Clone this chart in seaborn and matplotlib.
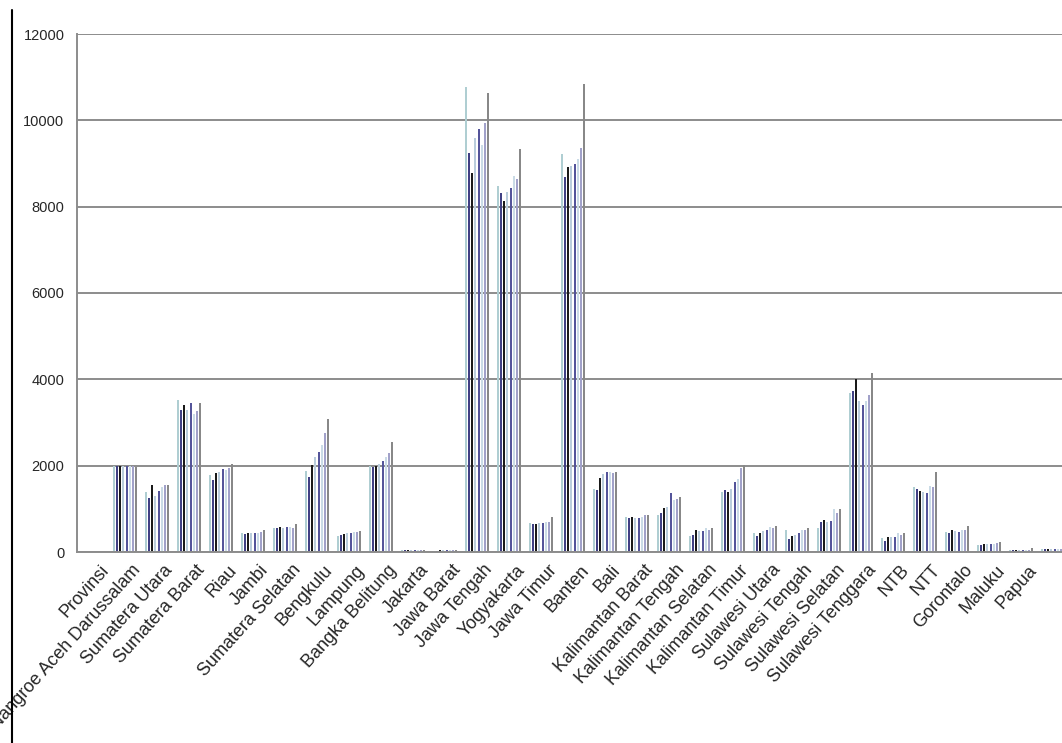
"""
plot.py
Grouped bar chart per provinsi (8 series), Excel-style look.
"""

import numpy as np
import pandas as pd
import matplotlib
matplotlib.use("Agg")
import matplotlib.pyplot as plt
from matplotlib.lines import Line2D
from matplotlib.ticker import FixedLocator
import seaborn as sns

# tick labels (one per slot, last data slot has no label)
provinces = [
    "Provinsi", "Nangroe Aceh Darussalam", "Sumatera Utara", "Sumatera Barat",
    "Riau", "Jambi", "Sumatera Selatan", "Bengkulu", "Lampung",
    "Bangka Belitung", "Jakarta", "Jawa Barat", "Jawa Tengah", "Yogyakarta",
    "Jawa Timur", "Banten", "Bali", "Kalimantan Barat", "Kalimantan Tengah",
    "Kalimantan Selatan", "Kalimantan Timur", "Sulawesi Utara",
    "Sulawesi Tengah", "Sulawesi Selatan", "Sulawesi Tenggara", "NTB", "NTT",
    "Gorontalo", "Maluku", "Papua",
]

# values per series, slot 0 is empty (header row)
s1 = [np.nan, 2000, 1400, 3520, 1780, 430, 560, 1880, 380, 2000, 40, 30, 10770, 8480, 670, 9220,
      1450, 820, 850, 370, 1397, 430, 510, 548, 3675, 316, 1513, 470, 170, 45, 70]
s2 = [np.nan, 2000, 1250, 3290, 1665, 420, 560, 1745, 400, 1980, 40, 30, 9240, 8310, 660, 8680,
      1435, 780, 900, 400, 1436, 370, 293, 700, 3736, 262, 1451, 447, 170, 45, 65]
s3 = [np.nan, 2000, 1550, 3400, 1820, 430, 580, 2015, 420, 2000, 40, 35, 8780, 8140, 660, 8910,
      1705, 800, 1010, 500, 1397, 450, 370, 740, 4000, 340, 1420, 510, 175, 46, 70]
s4 = [np.nan, 2000, 1300, 3300, 1850, 430, 560, 2200, 440, 2050, 45, 35, 9590, 8350, 670, 8950,
      1800, 790, 1050, 480, 1450, 480, 400, 700, 3500, 340, 1400, 480, 180, 46, 75]
s5 = [np.nan, 2000, 1410, 3450, 1915, 440, 590, 2325, 450, 2100, 45, 35, 9800, 8440, 680, 9000,
      1860, 780, 1375, 495, 1628, 510, 430, 720, 3405, 340, 1374, 470, 180, 48, 70]
s6 = [np.nan, 2000, 1500, 3200, 1900, 450, 570, 2480, 460, 2200, 45, 40, 9430, 8710, 700, 9100,
      1850, 820, 1200, 548, 1700, 586, 510, 1000, 3500, 432, 1528, 510, 190, 50, 80]
s7 = [np.nan, 2000, 1550, 3270, 1940, 460, 560, 2750, 470, 2300, 50, 40, 9940, 8630, 690, 9370,
      1830, 850, 1220, 520, 1938, 560, 500, 895, 3636, 400, 1500, 500, 200, 50, 80]
s8 = [np.nan, 1980, 1550, 3460, 2050, 500, 650, 3070, 480, 2550, 50, 40, 10630, 9330, 820, 10840,
      1860, 850, 1280, 548, 2015, 602, 548, 988, 4138, 432, 1860, 602, 240, 85, 90]

series = [s1, s2, s3, s4, s5, s6, s7, s8]
series_names = ["s1", "s2", "s3", "s4", "s5", "s6", "s7", "s8"]
colors = ["#a9d3d8", "#343490", "#1a1a1a", "#b4cde2", "#4848a6", "#c6dcea", "#9a9ad0", "#888888"]

n_slots = len(s1)
rows = []
for name, vals in zip(series_names, series):
    for i, v in enumerate(vals):
        rows.append({"slot": i, "seri": name, "value": v})
df = pd.DataFrame(rows)

sns.set_style("white")
plt.rcParams["font.family"] = ["Liberation Sans", "DejaVu Sans"]

fig = plt.figure(figsize=(10.62, 7.43), dpi=100)
W, H = 1062, 743
x0, y0, slot_px, y_top = 77, 552, 32, 34
ax = fig.add_axes([x0 / W, 1 - y0 / H, n_slots * slot_px / W, (y0 - y_top) / H])

sns.barplot(
    data=df, x="slot", y="value", hue="seri",
    order=list(range(n_slots)), hue_order=series_names,
    palette=colors, gap=0.35, width=0.8, linewidth=0,
    errorbar=None, legend=False, ax=ax,
)

grid_c = "#8c8c8c"
ax.set_ylim(0, 12000)
ax.set_yticks(range(0, 12001, 2000))
ax.yaxis.grid(True, color=grid_c, linewidth=1.4)
ax.set_axisbelow(True)
ax.set_xlim(-0.5, n_slots - 0.5)

for side in ["top", "right"]:
    ax.spines[side].set_visible(False)
for side in ["left", "bottom"]:
    ax.spines[side].set_color(grid_c)
    ax.spines[side].set_linewidth(1.4)

# labels sit with their end near the right edge of each slot
ax.set_xticks(np.arange(len(provinces)) + 0.4)
ax.set_xticklabels(provinces, rotation=48, ha="right", va="center",
                   rotation_mode="anchor", fontsize=13)
ax.xaxis.set_minor_locator(FixedLocator(np.arange(-0.5, n_slots, 1.0)))
ax.tick_params(axis="x", which="major", length=0, pad=11)
ax.tick_params(axis="x", which="minor", length=5, width=1.2, color=grid_c, direction="out")
ax.tick_params(axis="y", length=5, width=1.2, color=grid_c, direction="out",
               labelsize=10.5, pad=4)
ax.set_xlabel("")
ax.set_ylabel("")

# frame line at the left edge
fig.add_artist(Line2D([12 / W, 12 / W], [0, 1 - 10 / H], color="black", linewidth=1.5))

fig.savefig("out.png", dpi=100)
plt.close(fig)
